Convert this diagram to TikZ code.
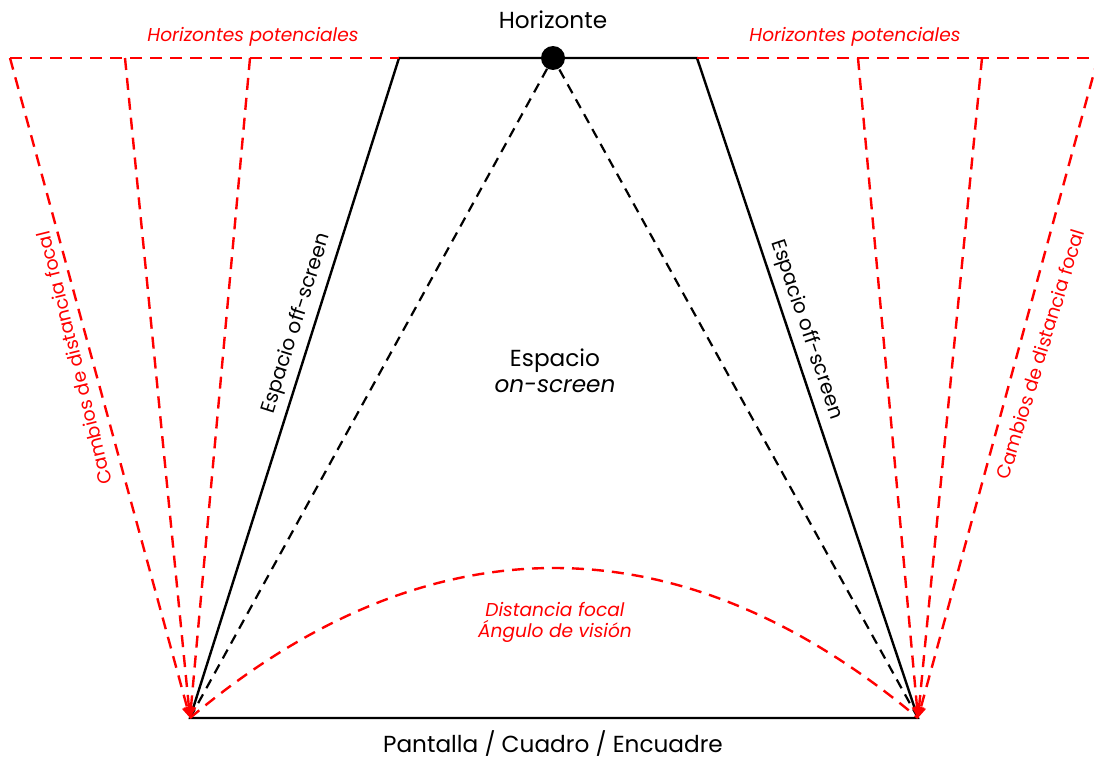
\documentclass[tikz,border=0pt]{standalone}
\usepackage{fontspec}
\setmainfont{Poppins}
\usepackage{xcolor}
\usetikzlibrary{arrows.meta, positioning}
\definecolor{fred}{RGB}{255,0,0}

\begin{document}
\begin{tikzpicture}[
  x=0.5pt, y=-0.5pt,
  font=\fontsize{11.6}{14}\selectfont,
  edge/.style={line width=1.2pt, black},
  sight/.style={line width=1.1pt, black, dash pattern=on 5pt off 3.5pt},
  focal/.style={line width=1.2pt, fred, dash pattern=on 6pt off 4pt},
  tip/.style={-{Triangle[length=5.5pt, width=5pt]}},
  redlab/.style={fred, font=\fontsize{9.3}{11.5}\selectfont\itshape},
  sidelab/.style={font=\fontsize{10}{12}\selectfont}
]
\useasboundingbox (0,0) rectangle (1094,760);
\clip (0,0) rectangle (1094,760);

% ---- Frame corners ----
\coordinate (bl) at (190,718);
\coordinate (br) at (918,718);
\coordinate (tl) at (399,58);
\coordinate (tr) at (697,58);

% ---- Potential horizons ----
\coordinate (l1) at (10,58);
\coordinate (l2) at (125,58);
\coordinate (l3) at (250,58);
\coordinate (r1) at (858,58);
\coordinate (r2) at (982,58);
\coordinate (r3) at (1098,58);
\coordinate (redge) at (1100,58);

% ---- Trapezoid (off-screen edges) ----
\draw[edge] (bl) -- node[sidelab, sloped, above, pos=0.59, inner sep=3pt] (offl) {Espacio off-screen} (tl)
  -- (tr) -- node[sidelab, sloped, above, pos=0.42, inner sep=3pt] (offr) {Espacio off-screen} (br) -- cycle;

% ---- Horizon point ----
\node[circle, fill=black, minimum size=12pt, inner sep=0pt] (hz) at (553,58) {};
\node[above=5pt of hz] (hzlab) {Horizonte};

\draw[sight] (bl) -- (hz);
\draw[sight] (br) -- (hz);

% ---- Red horizon line ----
\draw[focal] (l1) -- (tl);
\draw[focal] (tr) -- (redge);

% ---- Focal changes ----
\draw[focal, tip] (l1) -- (bl);
\draw[focal, tip] (l2) -- (bl);
\draw[focal, tip] (l3) -- (bl);
\draw[focal, tip] (r1) -- (br);
\draw[focal, tip] (r2) -- (br);
\draw[focal, tip] (r3) -- (br);

\draw[focal] (bl) .. controls (428,518) and (680,518) .. (br);

% ---- Labels ----
\node[redlab] (potl) at (253,37) {Horizontes potenciales};
\node[redlab] (potr) at (855,37) {Horizontes potenciales};
\node[fred, font=\fontsize{9.4}{12}\selectfont, rotate=104] (cambl) at (74,358) {Cambios de distancia focal};
\node[fred, font=\fontsize{9.4}{12}\selectfont, rotate=73] (cambr) at (1040,354) {Cambios de distancia focal};
\node[align=center] (onscr) at (555,371) {Espacio\\[-1pt]\textit{on-screen}};
\node[redlab, align=center] (angle) at (555,622) {Distancia focal\\[-1pt]Ángulo de visión};
\node (screen) at (553,744) {Pantalla / Cuadro / Encuadre};

\end{tikzpicture}
\end{document}
